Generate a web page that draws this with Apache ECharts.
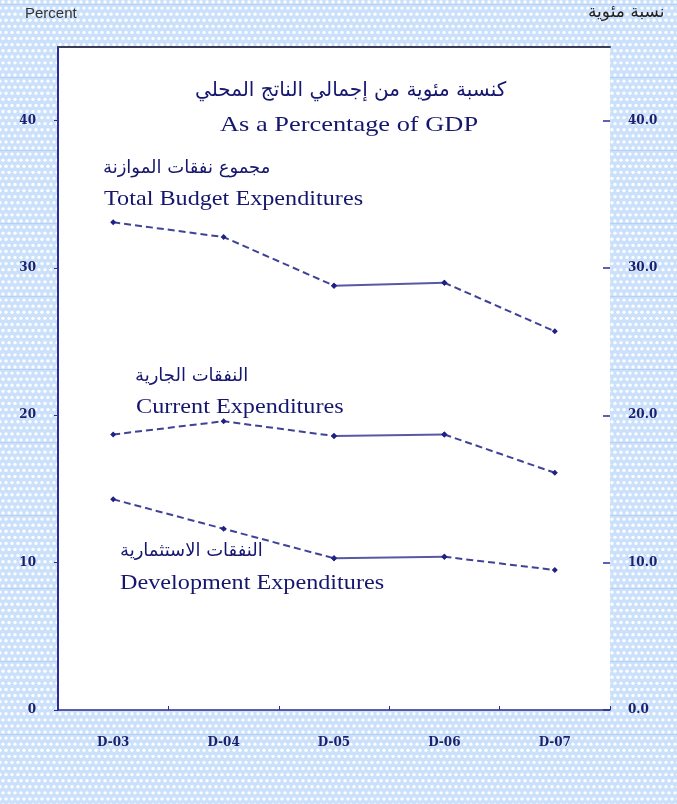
<!DOCTYPE html>
<html>
<head>
<meta charset="utf-8">
<script src="https://cdn.jsdelivr.net/npm/echarts@6/dist/echarts.min.js"></script>
<style>
  html, body { margin: 0; padding: 0; }
  #chart { width: 677px; height: 804px; }
</style>
</head>
<body>
<div id="chart"></div>
<script>
// Fiscal years on the category axis
const years = ['D-03', 'D-04', 'D-05', 'D-06', 'D-07'];

// Expenditures as a percentage of GDP
const totalBudget = [33.1, 32.1, 28.8, 29.0, 25.7];
const currentExp = [18.7, 19.6, 18.6, 18.7, 16.1];
const developmentExp = [14.3, 12.3, 10.3, 10.4, 9.5];

// Value-axis ticks
const yTicks = [0, 10, 20, 30, 40];

const NAVY = '#1f2185';
const LABEL_NAVY = '#1a1f6e';
const TEXT_NAVY = '#15166e';

// Dotted light-blue backdrop tile
function makeBackdrop() {
  const c = document.createElement('canvas');
  c.width = 6; c.height = 73;
  const g = c.getContext('2d');
  g.fillStyle = '#cbe0fa';
  g.fillRect(0, 0, 6, 73);
  g.fillStyle = '#ffffff';
  const rows = 12;
  for (let r = 0; r < rows; r++) {
    const y = 2 + r * 73 / rows;
    if (r % 2) {
      g.beginPath(); g.arc(0, y, 1.7, 0, Math.PI * 2); g.fill();
      g.beginPath(); g.arc(6, y, 1.7, 0, Math.PI * 2); g.fill();
    } else {
      g.beginPath(); g.arc(3, y, 1.7, 0, Math.PI * 2); g.fill();
    }
  }
  g.fillStyle = '#b4d2f6';
  g.fillRect(0, 4, 6, 1);
  return c;
}

// Split a series into the dashed parts and the solid middle stretch
function pick(arr, idx) {
  return arr.map((v, i) => (idx.indexOf(i) >= 0 ? v : '-'));
}
function lineSeries(arr) {
  const base = {
    type: 'line',
    symbol: 'diamond',
    symbolSize: 6,
    showSymbol: true,
    connectNulls: false,
    itemStyle: { color: NAVY },
    z: 3
  };
  return [
    Object.assign({}, base, {
      data: pick(arr, [0, 1, 2]),
      lineStyle: { color: NAVY, width: 2, type: [7, 4], opacity: 0.85 }
    }),
    Object.assign({}, base, {
      data: pick(arr, [2, 3]),
      lineStyle: { color: NAVY, width: 2, type: 'solid', opacity: 0.75 }
    }),
    Object.assign({}, base, {
      data: pick(arr, [3, 4]),
      lineStyle: { color: NAVY, width: 2, type: [7, 4], opacity: 0.85 }
    })
  ];
}

const chart = echarts.init(document.getElementById('chart'), null, { renderer: 'canvas' });

const tickFont = {
  color: LABEL_NAVY,
  fontFamily: 'DejaVu Serif',
  fontWeight: 'bold',
  fontSize: 12
};

const serifText = (x, y, text, sx) => ({
  type: 'text', x: x, y: y, scaleX: sx || 1.1,
  style: { text: text, fill: TEXT_NAVY, font: '22px "Liberation Serif"' }
});
const arabicText = (x, y, text) => ({
  type: 'text', x: x, y: y,
  style: { text: text, fill: TEXT_NAVY, font: '18px "DejaVu Sans"' }
});

chart.setOption({
  animation: false,
  backgroundColor: { image: makeBackdrop(), repeat: 'repeat' },
  grid: {
    left: 58, right: 67, top: 47, bottom: 94,
    show: true, backgroundColor: '#ffffff', borderWidth: 0
  },
  xAxis: [{
    type: 'category',
    data: years,
    boundaryGap: true,
    position: 'bottom',
    axisLine: { show: true, onZero: false, lineStyle: { color: '#2a2e8c', width: 1.5 } },
    axisTick: { show: true, inside: true, length: 4, interval: 0, lineStyle: { color: '#2a2e8c' } },
    axisLabel: Object.assign({ margin: 27 }, tickFont)
  }, {
    type: 'category',
    data: years,
    position: 'top',
    axisLine: { show: true, onZero: false, lineStyle: { color: '#3a3d55', width: 2 } },
    axisTick: { show: false },
    axisLabel: { show: false }
  }],
  yAxis: [{
    type: 'value',
    min: 0, max: 45, interval: 10,
    position: 'left',
    axisLine: { show: true, lineStyle: { color: '#2a2e9a', width: 2 } },
    axisTick: { show: true, length: 4, lineStyle: { color: '#2a2e9a' } },
    splitLine: { show: false },
    axisLabel: Object.assign({
      margin: 22, showMaxLabel: false,
      formatter: v => (yTicks.indexOf(v) >= 0 ? String(v) : '')
    }, tickFont)
  }, {
    type: 'value',
    min: 0, max: 45, interval: 10,
    position: 'right',
    axisLine: { show: false },
    axisTick: { show: true, inside: true, length: 7, lineStyle: { color: '#2a2e9a', width: 1.5 } },
    splitLine: { show: false },
    axisLabel: Object.assign({
      margin: 18, showMaxLabel: false,
      formatter: v => (yTicks.indexOf(v) >= 0 ? v.toFixed(1) : '')
    }, tickFont)
  }],
  graphic: [
    { type: 'text', x: 25, y: 6,
      style: { text: 'Percent', fill: '#333', font: '15px "Liberation Sans"' } },
    { type: 'text', x: 588, y: 4,
      style: { text: 'نسبة مئوية', fill: '#222', font: '17px "DejaVu Sans"' } },
    { type: 'text', x: 195, y: 81,
      style: { text: 'كنسبة مئوية من إجمالي الناتج المحلي', fill: TEXT_NAVY, font: '20px "DejaVu Sans"' } },
    serifText(220, 114, 'As a Percentage of GDP', 1.2),
    arabicText(103, 159, 'مجموع نفقات الموازنة'),
    serifText(104, 188, 'Total Budget Expenditures'),
    arabicText(135, 367, 'النفقات الجارية'),
    serifText(136, 396, 'Current Expenditures'),
    arabicText(120, 542, 'النفقات الاستثمارية'),
    serifText(120, 572, 'Development Expenditures')
  ],
  series: [].concat(
    lineSeries(totalBudget),
    lineSeries(currentExp),
    lineSeries(developmentExp)
  )
});
</script>
</body>
</html>
